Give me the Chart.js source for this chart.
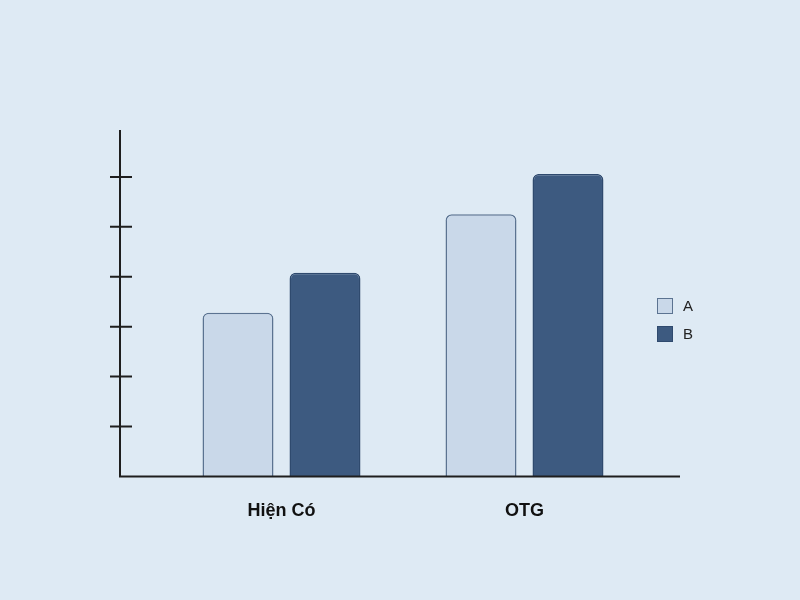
<!DOCTYPE html>
<html><head><meta charset="utf-8">
<script src="https://cdn.jsdelivr.net/npm/chart.js@4"></script>
<style>html,body{margin:0;padding:0;background:#deeaf4;}#w{position:relative;width:800px;height:600px;}
.lg{position:absolute;left:657px;font:15px "Liberation Sans",Arial,sans-serif;color:#222;display:flex;align-items:center}
.lg span{display:inline-block;width:16px;height:16px;margin-right:10px;box-sizing:border-box;border:1.5px solid}</style>
</head><body><div id="w"><canvas id="c" width="800" height="600"></canvas>
<div class="lg" style="top:297px"><span style="background:#c9d8e9;border-color:#5b7391"></span>A</div>
<div class="lg" style="top:325px"><span style="background:#3d5a80;border-color:#2f4a6e"></span>B</div>
</div>
<script>
const categories=['Hiện Có','OTG'];
const seriesA=[3.28,5.25];
const seriesB=[4.08,6.06];
const yTicks=[1,2,3,4,5,6];
const axes={id:'axes',afterDatasetsDraw(ch){
 const c=ch.ctx,a=ch.chartArea,y=ch.scales.y;const x0=a.left-40,yb=y.getPixelForValue(0);
 c.save();c.strokeStyle='#1e1e1e';c.lineWidth=2;c.beginPath();
 c.moveTo(x0,a.top+3);c.lineTo(x0,yb);c.lineTo(a.right+34,yb);
 yTicks.forEach(t=>{const p=y.getPixelForValue(t);c.moveTo(x0-10,p);c.lineTo(x0+12,p);});
 c.stroke();c.restore();}};
new Chart(document.getElementById('c'),{type:'bar',
data:{labels:categories,datasets:[
 {label:'A',data:seriesA,backgroundColor:'#c9d8e9',borderColor:'#5b7391',borderWidth:1.5,borderRadius:6,borderSkipped:'bottom'},
 {label:'B',data:seriesB,backgroundColor:'#3d5a80',borderColor:'#2f4a6e',borderWidth:1.5,borderRadius:6,borderSkipped:'bottom'}]},
options:{responsive:false,animation:false,categoryPercentage:0.716,barPercentage:0.816,
 layout:{padding:{left:160,right:154,top:127,bottom:62}},
 plugins:{legend:{display:false},tooltip:{enabled:false}},
 scales:{y:{display:false,min:0,max:7},
  x:{grid:{display:false},border:{display:false},ticks:{padding:16,color:'#111',font:{family:'Liberation Sans',size:18,weight:'bold'}}}}},
plugins:[axes]});
</script></body></html>
